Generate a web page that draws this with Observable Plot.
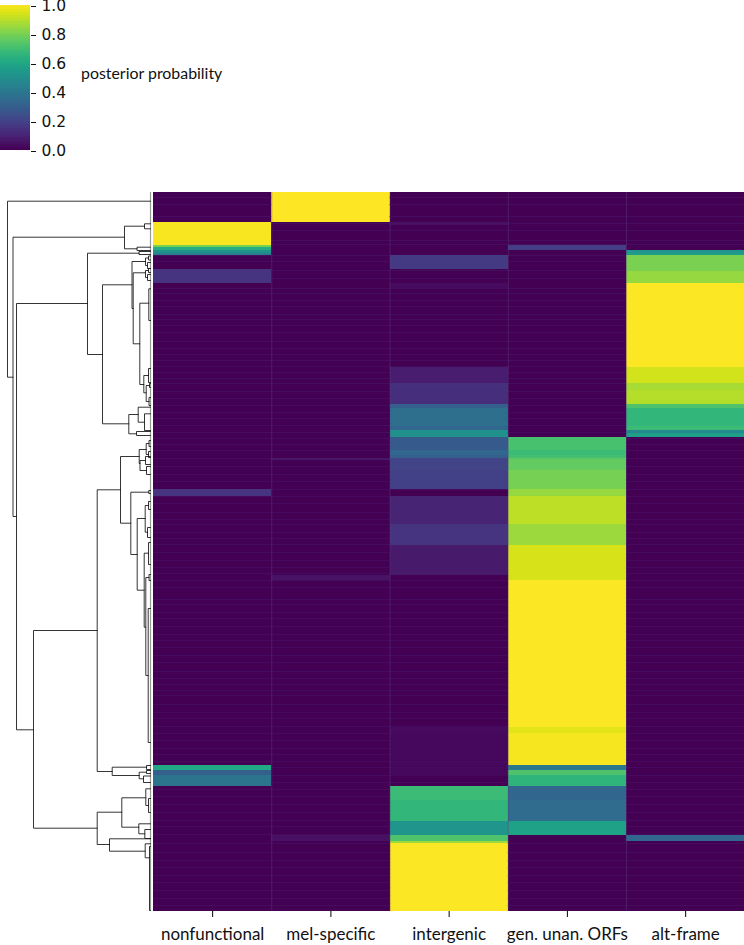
<!DOCTYPE html>
<html>
<head>
<meta charset="utf-8">
<script src="https://cdn.jsdelivr.net/npm/d3@7"></script>
<script src="https://cdn.jsdelivr.net/npm/@observablehq/plot@0.6"></script>
<style>
  html, body { margin: 0; padding: 0; background: #fff; }
  #page { position: relative; width: 744px; height: 945px; overflow: hidden; }
  #page svg { position: absolute; overflow: visible; background: transparent; }
  #cbar svg { left: 0; top: 0; }
  #dend svg { left: 0; top: 192px; }
  #heat svg { left: 152.7px; top: 192px; }
  #cbarLabel { position: absolute; left: 81px; top: 63px; font: 15.9px/20px Lato, sans-serif; color: #111; white-space: nowrap; }
</style>
</head>
<body>
<div id="page">
  <div id="cbar"></div>
  <div id="cbarLabel">posterior probability</div>
  <div id="dend"></div>
  <div id="heat"></div>
</div>
<script>
// Heatmap: columns and horizontal blocks of rows (clustered order)
const categories = ["nonfunctional", "mel-specific", "intergenic", "gen. unan. ORFs", "alt-frame"];
const totalRows = 719;
const blockRows = [30,3,20,2,3,3,2,14,2,12, 5,79,16,7,14,4,18,4,3,4, 13,5,3,2,10,19,7,28,21,30, 5,147,6,32,5,5,11,14,21,14, 6,2,68];
const nonfunctional = [0,.99,.99,.8,.62,.5,.42,0,.15,.15, 0,0,0,0,0,0,0,0,0,0, 0,0,0,0,0,0,.15,0,0,0, 0,0,0,0,.6,.3,.38,0,0,0, 0,0,0];
const melSpecific   = [1,0,0,0,0,0,0,0,0,0, 0,0,0,0,0,0,0,0,0,0, 0,0,0,.06,0,0,0,0,0,0, .05,0,0,0,0,0,0,0,0,0, .04,0,0];
const intergenic    = [0,.04,0,0,0,0,0,.17,0,0, .03,0,.08,.14,.13,.3,.36,.33,.5,.5, .28,.33,.3,.2,.2,.19,0,.1,.15,.07, 0,0,.03,.02,.02,.02,0,.68,.66,.52, .72,.85,.995];
const genUnanORFs   = [0,0,0,.18,.18,0,0,0,0,0, 0,0,0,0,0,0,0,0,0,0, .71,.68,.7,.75,.76,.79,.84,.9,.85,.94, .94,.995,.96,.985,.4,.72,.65,.33,.35,.57, 0,0,0];
const altFrame      = [0,0,0,0,0,.52,.55,.8,.8,.84, .995,.995,.93,.87,.89,.72,.66,.68,.47,.56, 0,0,0,0,0,0,0,0,0,0, 0,0,0,0,0,0,0,0,0,0, .33,0,0];
const seriesValues = [nonfunctional, melSpecific, intergenic, genUnanORFs, altFrame];

// Rows with a slightly lighter faint line on the dark background
const faintRows = [5,12,24,31,38,48,52,63,69,78,86,96,101,108,114,122,127,133,140,149,156,162,168,174,180,186,191,199,206,213,220,226,233,240,246,252,258,266,274,282,289,297,304,311,320,327,332,340,346,352,360,368,375,381,388,395,407,412,420,426,434,442,448,455,463,470,479,486,492,498,503,512,520,526,534,541,548,556,562,569,575,583,590,597,604,612,620,628,634,642,651,660,668,675,683,690,698,706,713];

// Dendrogram merges: linkage height of the merge, then row and height of each child
const mergeHeight = [143,137.5,26,6,13.5,134,63,11.5,48,18.5,5,2,3,17.3,5,2,3,10.7,1.7,6.7,2,4.3,1,1.5,21.7,12.3,6,14,117,53.3,30,11.3,4.3,1.5,2,10.5,5,4,19.7,1.7,13.3,5.3,2,3,6.3,2,4.7,1.5,2.3,38.3,4,11.3,4,7,53.3,28.7,4.7,2,11.7,5.7,41,5.3,1];
const childRowA   = [8.7,44.7,33.7,31.3,54.7,111,60.7,59,92.3,69,65.5,63.5,70,80.3,78,76,82,110.7,96.3,183,176,193,191,205,222,214.7,221.3,239,438,297.3,264,257,251,248,259,268,264,274,299.7,298,326,313,309,335,360.7,350,385,382,416,574.7,573,579.7,578,583.5,619.7,605.3,596.3,606,631.3,637,646.3,651.3,654];
const childHeightA= [0,26,6,0,0,63,11.5,0,18.5,5,2,0,0,5,2,0,0,1.7,0,2,0,1,0,0,12.3,0,0,0,53.3,30,11.3,4.3,1.5,0,0,5,0,0,1.7,0,5.3,2,0,0,2,0,1.5,0,0,4,0,4,0,0,28.7,4.7,0,0,0,0,0,0,0];
const childRowB   = [184.7,324,56.3,36.3,58,537.3,162,62,231.3,116,73,67.5,76,151.3,85,80,88,192,128,200.3,190,209,195,213,241.3,229.7,238,243,635.7,579,330.7,271,262,254,265,278,272,282,362,301,397.7,339.7,317,345,434.7,372,483,388,550,583,577,586.3,581,590,652,634.7,613,620,641.3,646,658.7,665.3,718];
const childHeightB= [137.5,134,13.5,0,0,117,48,0,21.7,17.3,3,0,0,10.7,3,0,0,6.7,0,4.3,0,1.5,0,0,14,6,0,0,53.3,38.3,19.7,10.5,2,0,0,4,0,0,13.3,0,6.3,3,0,0,4.7,0,2.3,0,0,11.3,0,7,0,0,41,11.7,2,0,5.7,0,5.3,1,0];
const maxHeight = 143;

// Colour bar
const cbarTicks = [0, 0.2, 0.4, 0.6, 0.8, 1.0];

const viridis = {type: "linear", scheme: "viridis", domain: [0, 1]};

// build block table
let start = 0;
const blocks = [];
blockRows.forEach((n, i) => {
  seriesValues.forEach((s, c) => blocks.push({c, r1: start, r2: start + n, v: s[i]}));
  start += n;
});
// faint lines only where the column is dark
const faint = [];
for (const r of faintRows) {
  for (const b of blocks) {
    if (b.r1 <= r && r < b.r2 && b.v < 0.03) faint.push({c: b.c, r1: r, r2: r + 1, v: 0.035});
  }
}

const heat = Plot.plot({
  width: 591.3, height: 753,
  marginLeft: 0, marginRight: 0, marginTop: 0, marginBottom: 34,
  x: {domain: [0, 5], axis: null},
  y: {domain: [totalRows, 0], axis: null},
  color: viridis,
  style: {background: "transparent", overflow: "visible"},
  marks: [
    Plot.rect(blocks, {x1: "c", x2: d => d.c + 1, y1: "r1", y2: "r2", fill: "v", shapeRendering: "crispEdges"}),
    Plot.rect(faint, {x1: "c", x2: d => d.c + 1, y1: "r1", y2: "r2", fill: "v", fillOpacity: 0.9}),
    Plot.ruleX([1, 2, 3, 4], {stroke: "#5b3f80", strokeOpacity: 0.45, strokeWidth: 1}),
    Plot.axisX({
      anchor: "bottom", ticks: d3.range(5).map(i => i + 0.5),
      tickFormat: t => categories[Math.floor(t)],
      tickSize: 6, tickPadding: 10, stroke: "#000", strokeWidth: 1,
      fontSize: 17, fontFamily: "Lato", label: null, color: "#111"
    })
  ]
});
document.getElementById("heat").append(heat);

// dendrogram
const uShapes = mergeHeight.flatMap((h, i) => [
  {m: i, h: childHeightA[i], r: childRowA[i]},
  {m: i, h, r: childRowA[i]},
  {m: i, h, r: childRowB[i]},
  {m: i, h: childHeightB[i], r: childRowB[i]}
]);
const dend = Plot.plot({
  width: 152, height: 753,
  marginLeft: 7, marginRight: 2, marginTop: 0, marginBottom: 34,
  x: {domain: [maxHeight, 0], axis: null},
  y: {domain: [totalRows, 0], axis: null},
  style: {background: "transparent", overflow: "visible"},
  marks: [
    Plot.ruleX([0], {y1: 0, y2: totalRows, stroke: "#999", strokeWidth: 1.2}),
    Plot.line(uShapes, {x: "h", y: "r", z: "m", stroke: "#111", strokeWidth: 0.85, curve: "linear"})
  ]
});
document.getElementById("dend").append(dend);

// colour bar
const ramp = d3.range(0, 100).map(i => ({a: i / 100, b: (i + 1) / 100}));
const cbar = Plot.plot({
  width: 90, height: 160,
  marginLeft: 0, marginRight: 60, marginTop: 5, marginBottom: 10,
  x: {domain: [0, 1], axis: null},
  y: {domain: [0, 1], axis: null},
  color: viridis,
  style: {background: "transparent", overflow: "visible"},
  marks: [
    Plot.rect(ramp, {x1: 0, x2: 1, y1: "a", y2: "b", fill: "a", shapeRendering: "crispEdges"}),
    Plot.axisY({
      anchor: "right", ticks: cbarTicks, tickFormat: d3.format(".1f"),
      tickSize: 5, tickPadding: 6, textStroke: "none", fontSize: 15.5, dy: 1, fontFamily: "DejaVu Sans", label: null, color: "#111"
    })
  ]
});
document.getElementById("cbar").append(cbar);
</script>
</body>
</html>
